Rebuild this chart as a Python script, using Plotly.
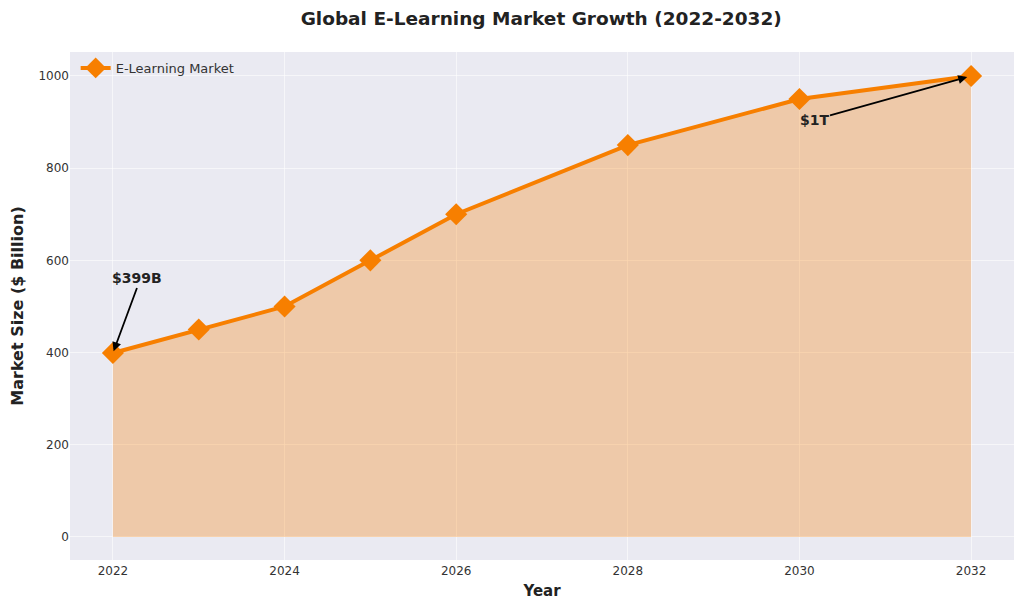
import plotly.graph_objects as go

years = [2022, 2023, 2024, 2025, 2026, 2028, 2030, 2032]
market_size = [399, 450, 500, 600, 700, 850, 950, 1000]
x_ticks = [2022, 2024, 2026, 2028, 2030, 2032]
y_ticks = [0, 200, 400, 600, 800, 1000]

orange = "#F77F00"

fig = go.Figure()

# shaded area under the curve
fig.add_trace(
    go.Scatter(
        x=years,
        y=market_size,
        fill="tozeroy",
        fillcolor="rgba(247,127,0,0.3)",
        mode="lines",
        line=dict(color="rgba(247,127,0,0.35)", width=1),
        showlegend=False,
        hoverinfo="skip",
    )
)

fig.add_trace(
    go.Scatter(
        x=years,
        y=market_size,
        mode="lines+markers",
        name="E-Learning Market",
        line=dict(color=orange, width=4),
        marker=dict(symbol="diamond", size=17, color=orange),
    )
)

fig.add_annotation(
    x=years[0], y=market_size[0], ax=years[0] + 0.28, ay=540,
    axref="x", ayref="y",
    text="<b>$399B</b>", showarrow=True,
    arrowhead=2, arrowsize=1, arrowwidth=1.8, arrowcolor="black",
    standoff=2, yanchor="bottom", xanchor="center",
    font=dict(size=14, color="#222222"),
)
fig.add_annotation(
    x=years[-1], y=market_size[-1], ax=2030.17, ay=905,
    axref="x", ayref="y",
    text="<b>$1T</b>", showarrow=True,
    arrowhead=2, arrowsize=1, arrowwidth=1.8, arrowcolor="black",
    standoff=4, xanchor="center", yanchor="middle",
    font=dict(size=14, color="#222222"),
)

# page body adds an 8px margin, so the figure is sized to fit the window
fig.update_layout(
    width=1008,
    height=593,
    paper_bgcolor="white",
    plot_bgcolor="#EAEAF2",
    font=dict(family="DejaVu Sans", size=12, color="#333333"),
    title=dict(
        text="<b>Global E-Learning Market Growth (2022-2032)</b>",
        x=0.529, xanchor="center", y=0.983, yanchor="middle",
        font=dict(size=18.5, color="#222222"),
    ),
    margin=dict(l=62, r=2, t=44, b=41),
    legend=dict(
        x=0.006, y=0.998, xanchor="left", yanchor="top",
        bgcolor="rgba(0,0,0,0)", font=dict(size=13, color="#333333"),
    ),
    xaxis=dict(
        title=dict(text="<b>Year</b>", font=dict(size=15, color="#222222"), standoff=8),
        range=[2021.5, 2032.5],
        tickvals=x_ticks,
        showgrid=True, gridcolor="rgba(255,255,255,0.55)", gridwidth=1,
        zeroline=False, ticks="", ticklen=0, automargin=False,
        ticklabelstandoff=2,
    ),
    yaxis=dict(
        title=dict(text="<b>Market Size ($ Billion)</b>", font=dict(size=16, color="#222222"), standoff=10),
        range=[-50, 1052],
        tickvals=y_ticks,
        showgrid=True, gridcolor="rgba(255,255,255,0.55)", gridwidth=1,
        zeroline=False, ticks="", ticklen=0, automargin=False,
    ),
)

fig.write_html("out.html")
